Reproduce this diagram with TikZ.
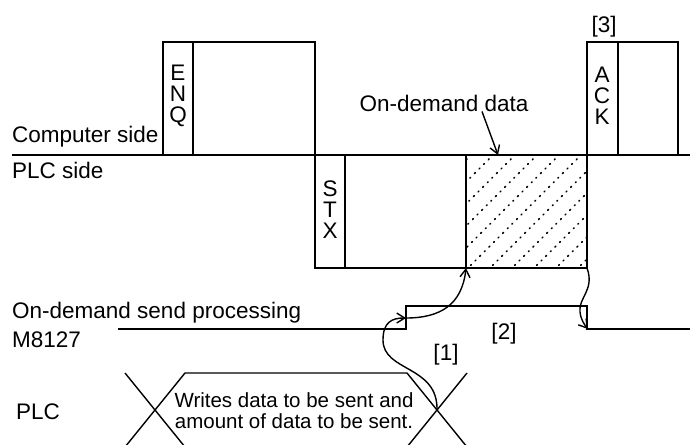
\documentclass[tikz,border=0pt]{standalone}
\usepackage{fontspec}
\setmainfont{Liberation Sans}
\usetikzlibrary{arrows.meta}
\tikzset{
  frame/.style={line width=2pt},
  sig/.style={line width=1.4pt},
  lbl/.style={font=\fontsize{22.5}{21}\selectfont,inner sep=0pt},
  stack/.style={font=\fontsize{22.5}{21}\selectfont,align=center,inner sep=0pt},
  note/.style={font=\fontsize{20.5}{21}\selectfont,align=center,inner sep=0pt},
  hatch/.style={line width=1.6pt,dash pattern=on 1pt off 5.5pt,line cap=round},
  cue/.style={-{Straight Barb[length=8pt,width=10pt]},line width=1.4pt}
}
\begin{document}
\begin{tikzpicture}[x=1pt,y=-1pt]
\clip (0,0) rectangle (690,444);

% on-demand data hatching
\begin{scope}
\clip (466,155) rectangle (587,268);
\foreach \i in {0,...,11}
  \draw[hatch] (356+\i*22,270) -- ++(120,-120);
\end{scope}

% computer side
\draw[frame] (12,155) -- (690,155);
\draw[frame] (163,155) |- (315,42) -- (315,155);
\draw[frame] (193,42) -- (193,155);
\draw[frame] (587,268) -- (587,42) -| (678,155);
\draw[frame] (618,42) -- (618,155);

% PLC side
\draw[frame] (315,155) |- (587,268);
\draw[frame] (345,155) -- (345,268);
\draw[frame] (466,155) -- (466,268);

\node[lbl,anchor=base west] (comp) at (12,142) {Computer side};
\node[lbl,anchor=base west] (plcside) at (12,178) {PLC side};
\node[stack] (enq) at (178,96) {E\\N\\Q};
\node[stack] (stx) at (330,210) {S\\T\\X};
\node[stack] (ack) at (602,96) {A\\C\\K};
\node[lbl] (n3) at (604,27) {[3]};
\node[lbl] (odd) at (444,103) {On-demand data};
\coordinate (hit) at (498,155);
\draw[cue] ([xshift=38pt]odd.south) -- (hit);

% M8127
\draw[sig] (118,329) -- (406,329) -- (406,306) -- (587,306) -- (587,329) -- (690,329);
\node[lbl,anchor=base west] (proc) at (12,318) {On-demand send processing};
\node[lbl,anchor=base west] (m8127) at (12,347) {M8127};
\node[lbl] (n2) at (504,334) {[2]};
\node[lbl] (n1) at (446,355) {[1]};

% PLC
\node[lbl] (plc) at (38,412) {PLC};
\draw[sig] (125,373) -- (185,447);
\draw[sig] (125,447) -- (185,373) -- (407,373) -- (467,447);
\draw[sig] (407,447) -- (467,373);
\node[note] (wr) at (294,411) {Writes data to be sent and\\amount of data to be sent.};

% sequence
\coordinate (xr) at (437,410);
\coordinate (rise) at (406,318);
\coordinate (dcorner) at (466,268);
\coordinate (dend) at (587,268);
\coordinate (fall) at (588,329);
\draw[cue] (xr) .. controls (438,365) and (383,372) .. (383,340)
  .. controls (383,322) and (392,318) .. (rise);
\draw[cue] (rise) .. controls (440,318) and (462,305) .. (dcorner);
\draw[cue] (dend) .. controls (595,290) and (578,298) .. (580,312)
  .. controls (581,320) and (584,324) .. (fall);
\end{tikzpicture}
\end{document}
